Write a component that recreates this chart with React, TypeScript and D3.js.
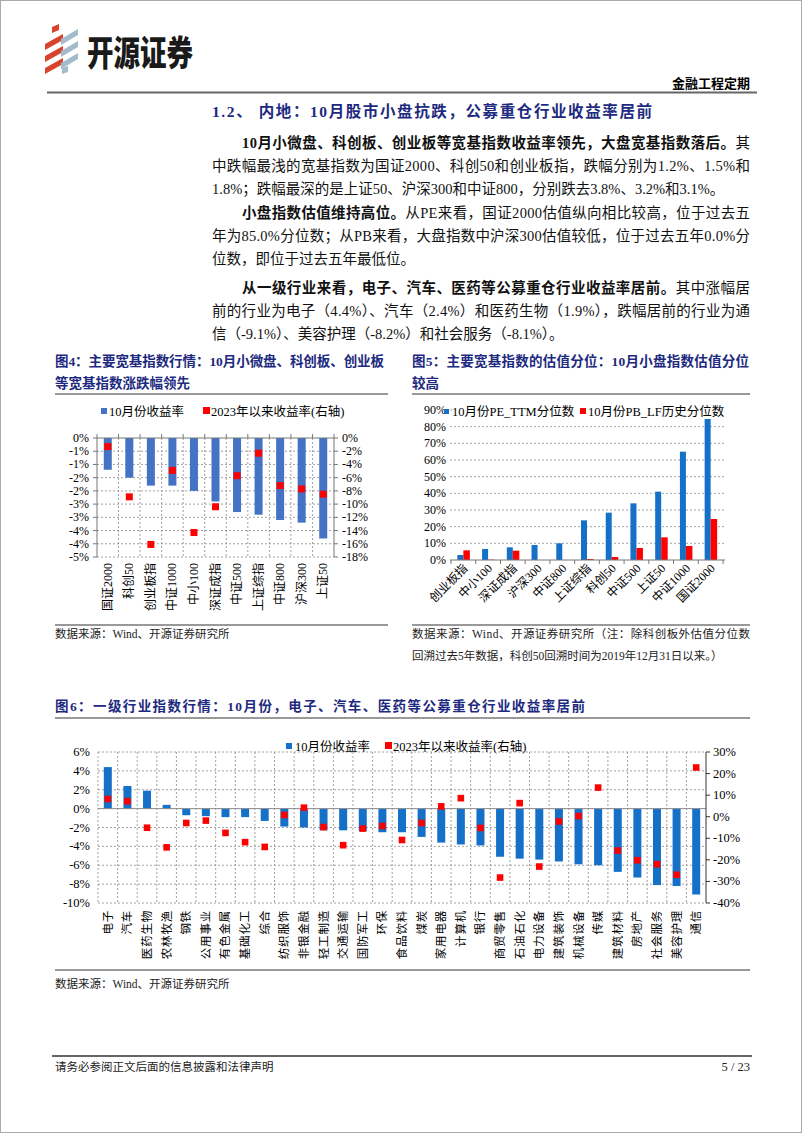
import React from "react";
import * as d3 from "d3";

const SERIF = "'Liberation Serif','Noto Sans CJK SC',serif";
const CJK = "'Noto Sans CJK SC',sans-serif";
const NAVY = "#1d2a80";
const BLUE4 = "#4472C4";
const BLUE = "#1570c8";
const RED = "#ff0000";
const GRID = "#8a8a8a";

// ---------- Figure 4 ----------
const c4Categories = ["国证2000", "科创50", "创业板指", "中证1000", "中小100", "深证成指", "中证500", "上证综指", "中证800", "沪深300", "上证50"];
const c4October = [-1.2, -1.5, -1.8, -1.8, -2.0, -2.4, -2.8, -2.9, -3.1, -3.2, -3.8];
const c4SinceYear = [-1.3, -8.9, -16.1, -4.9, -14.3, -10.4, -5.7, -2.3, -7.2, -7.7, -8.5];
const c4LeftTicks = [0, -0.5, -1, -1.5, -2, -2.5, -3, -3.5, -4, -4.5];
const c4LeftTickLabels = ["0%", "-1%", "-1%", "-2%", "-2%", "-3%", "-3%", "-4%", "-4%", "-5%"];
const c4RightTicks = [0, -2, -4, -6, -8, -10, -12, -14, -16, -18];

// ---------- Figure 5 ----------
const c5Categories = ["创业板指", "中小100", "深证成指", "沪深300", "中证800", "上证综指", "科创50", "中证500", "上证50", "中证1000", "国证2000"];
const c5PE = [3.0, 6.6, 7.6, 9.0, 10.0, 23.8, 28.4, 34.0, 41.0, 65.0, 85.0];
const c5PB = [5.8, 0.2, 5.6, 0.0, 0.0, 0.6, 1.8, 7.2, 13.6, 8.4, 24.6];
const c5Ticks = [0, 10, 20, 30, 40, 50, 60, 70, 80, 90];

// ---------- Figure 6 ----------
const c6Categories = ["电子", "汽车", "医药生物", "农林牧渔", "钢铁", "公用事业", "有色金属", "基础化工", "综合", "纺织服饰", "非银金融", "轻工制造", "交通运输", "国防军工", "环保", "食品饮料", "煤炭", "家用电器", "计算机", "银行", "商贸零售", "石油石化", "电力设备", "建筑装饰", "机械设备", "传媒", "建筑材料", "房地产", "社会服务", "美容护理", "通信"];
const c6October = [4.4, 2.4, 1.9, 0.4, -0.7, -0.8, -0.9, -0.9, -1.3, -1.9, -2.0, -2.3, -2.3, -2.4, -2.5, -2.5, -3.0, -3.6, -3.8, -3.9, -5.1, -5.3, -5.4, -5.6, -5.9, -6.0, -6.7, -7.3, -8.1, -8.2, -9.1];
const c6SinceYear = [8.2, 7.2, -5.1, -14.2, -2.9, -1.8, -7.5, -11.8, -14.0, 0.8, 4.2, -4.8, -13.2, -5.5, -4.3, -10.8, -2.9, 4.8, 8.6, -5.2, -28.2, 6.3, -23.1, -2.2, 0.3, 13.5, -15.7, -20.2, -22.0, -26.9, 22.8];
const c6LeftTicks = [6, 4, 2, 0, -2, -4, -6, -8, -10];
const c6RightTicks = [30, 20, 10, 0, -10, -20, -30, -40];

const pct = (v: number) => `${v}%`;

function Logo() {
  const red = "#d8432e";
  const blue = "#a3bccb";
  const stripe = (x0: number, x1: number, y: number) =>
    `M${x0},${y + 10} L${x1},${y} L${x1},${y + 6} L${x0},${y + 16} Z`;
  return (
    <g>
      <path d="M52,27 L59,24 L59,30 L52,33 Z" fill={red} />
      {[34, 46, 58].map((y, i) => (
        <path key={"r" + i} d={stripe(45, 63, y)} fill={red} />
      ))}
      {[29, 41, 53].map((y, i) => (
        <path key={"b" + i} d={stripe(61, 78, y)} fill={blue} />
      ))}
      <path d="M62,68 L68,66 L68,72 L62,74 Z" fill={blue} />
    </g>
  );
}

function Chart4() {
  const x = d3.scaleBand<string>().domain(c4Categories).range([97, 334]);
  const yL = d3.scaleLinear().domain([0, -4.5]).range([438, 557]);
  const yR = d3.scaleLinear().domain([0, -18]).range([438, 557]);
  const bw = x.bandwidth();
  return (
    <g fontFamily={SERIF}>
      <rect x={101} y={408} width={6} height={6} fill={BLUE4} />
      <text x={109} y={416} fontSize={12.5}>10月份收益率</text>
      <rect x={203} y={407} width={7} height={7} fill={RED} />
      <text x={211} y={416} fontSize={12.5}>2023年以来收益率(右轴)</text>
      {c4LeftTicks.slice(1).map((t) => (
        <line key={"h" + t} x1={97} x2={334} y1={yL(t)} y2={yL(t)} stroke={GRID} strokeWidth={0.8} strokeDasharray="2,2" />
      ))}
      {c4Categories.slice(1).map((c) => (
        <line key={"v" + c} x1={x(c)!} x2={x(c)!} y1={438} y2={557} stroke={GRID} strokeWidth={0.8} strokeDasharray="2,2" />
      ))}
      {c4Categories.map((c, i) => (
        <rect key={"b" + c} x={x(c)! + bw / 2 - 4} y={yL(0)} width={8} height={yL(c4October[i]) - yL(0)} fill={BLUE4} />
      ))}
      {c4Categories.map((c, i) => (
        <rect key={"m" + c} x={x(c)! + bw / 2 - 3.5} y={yR(c4SinceYear[i]) - 3.5} width={7} height={7} fill={RED} />
      ))}
      <line x1={97} x2={334} y1={438} y2={438} stroke="#777" strokeWidth={1} />
      {c4Categories.concat([""]).map((c, i) => {
        const xx = 97 + i * bw;
        return <line key={"t" + i} x1={xx} x2={xx} y1={434} y2={438} stroke="#777" />;
      })}
      <line x1={97} x2={97} y1={438} y2={557} stroke="#777" />
      <line x1={334} x2={334} y1={438} y2={557} stroke="#777" />
      {c4LeftTicks.map((t, i) => (
        <g key={"l" + i}>
          <line x1={93} x2={97} y1={yL(t)} y2={yL(t)} stroke="#777" />
          <text x={89} y={yL(t) + 4} fontSize={12} textAnchor="end">{c4LeftTickLabels[i]}</text>
        </g>
      ))}
      {c4RightTicks.map((t) => (
        <g key={"r" + t}>
          <line x1={334} x2={338} y1={yR(t)} y2={yR(t)} stroke="#777" />
          <text x={342} y={yR(t) + 4} fontSize={12}>{pct(t)}</text>
        </g>
      ))}
      {c4Categories.map((c) => (
        <text key={"x" + c} transform={`translate(${x(c)! + bw / 2 + 4},563) rotate(-90)`} textAnchor="end" fontSize={12}>{c}</text>
      ))}
    </g>
  );
}

function Chart5() {
  const x = d3.scaleBand<string>().domain(c5Categories).range([451, 723]);
  const y = d3.scaleLinear().domain([0, 90]).range([560, 410]);
  const bw = x.bandwidth();
  return (
    <g fontFamily={SERIF}>
      {c5Ticks.slice(1).map((t) => (
        <line key={"g" + t} x1={450} x2={725} y1={y(t)} y2={y(t)} stroke={GRID} strokeWidth={0.8} strokeDasharray="2,2" />
      ))}
      {c5Ticks.map((t) => (
        <text key={"l" + t} x={446} y={y(t) + 4} fontSize={12} textAnchor="end">{pct(t)}</text>
      ))}
      {c5Categories.map((c, i) => {
        const cx = x(c)! + bw / 2;
        return (
          <g key={c}>
            <rect x={cx - 6} y={y(c5PE[i])} width={6} height={y(0) - y(c5PE[i])} fill={BLUE} />
            <rect x={cx} y={y(c5PB[i])} width={6.5} height={y(0) - y(c5PB[i])} fill={RED} />
          </g>
        );
      })}
      <line x1={450} x2={725} y1={y(0)} y2={y(0)} stroke="#777" />
      {c5Categories.concat([""]).map((c, i) => {
        const xx = 451 + i * bw;
        return <line key={"t" + i} x1={xx} x2={xx} y1={560} y2={564} stroke="#777" />;
      })}
      {c5Categories.map((c) => (
        <text key={"x" + c} transform={`translate(${x(c)! + bw / 2 + 5},569) rotate(-45)`} textAnchor="end" fontSize={12}>{c}</text>
      ))}
      <rect x={452} y={404} width={272} height={15} fill="#fff" />
      <rect x={444} y={409} width={5} height={5} fill={BLUE} />
      <text x={452} y={416} fontSize={12.5}>10月份PE_TTM分位数</text>
      <rect x={580} y={408} width={6} height={6} fill={RED} />
      <text x={588} y={416} fontSize={12.5}>10月份PB_LF历史分位数</text>
    </g>
  );
}

function Chart6() {
  const x = d3.scaleBand<string>().domain(c6Categories).range([98, 706]);
  const yL = d3.scaleLinear().domain([-10, 6]).range([903, 752]);
  const yR = d3.scaleLinear().domain([-40, 30]).range([903, 752]);
  const bw = x.bandwidth();
  return (
    <g fontFamily={SERIF}>
      {c6LeftTicks.filter((t) => t !== 0).map((t) => (
        <line key={"h" + t} x1={98} x2={706} y1={yL(t)} y2={yL(t)} stroke={GRID} strokeWidth={0.8} strokeDasharray="2,2" />
      ))}
      {c6Categories.map((c) => (
        <line key={"v" + c} x1={x(c)!} x2={x(c)!} y1={752} y2={903} stroke={GRID} strokeWidth={0.8} strokeDasharray="2,2" />
      ))}
      {c6Categories.map((c, i) => {
        const v = c6October[i];
        return (
          <rect key={"b" + c} x={x(c)! + bw / 2 - 4} y={Math.min(yL(v), yL(0))} width={8} height={Math.abs(yL(v) - yL(0))} fill={BLUE} />
        );
      })}
      <line x1={98} x2={706} y1={yL(0)} y2={yL(0)} stroke="#888" strokeWidth={1} />
      {c6Categories.map((c, i) => (
        <rect key={"m" + c} x={x(c)! + bw / 2 - 3.3} y={yR(c6SinceYear[i]) - 3.3} width={6.6} height={6.6} fill={RED} />
      ))}
      <line x1={706} x2={706} y1={752} y2={903} stroke="#333" />
      {c6RightTicks.map((t) => (
        <g key={"r" + t}>
          <line x1={706} x2={710} y1={yR(t)} y2={yR(t)} stroke="#333" />
          <text x={713} y={yR(t) + 4} fontSize={12.5}>{pct(t)}</text>
        </g>
      ))}
      {c6LeftTicks.map((t) => (
        <text key={"l" + t} x={90} y={yL(t) + 4} fontSize={12.5} textAnchor="end">{pct(t)}</text>
      ))}
      {c6Categories.map((c) => (
        <text key={"x" + c} transform={`translate(${x(c)! + bw / 2 + 4},910) rotate(-90)`} textAnchor="end" fontSize={11.5} letterSpacing={0.8}>{c}</text>
      ))}
      <rect x={286} y={743} width={6} height={6} fill={BLUE} />
      <text x={295} y={751} fontSize={12.5}>10月份收益率</text>
      <rect x={385} y={742} width={7} height={7} fill={RED} />
      <text x={393} y={751} fontSize={12.5}>2023年以来收益率(右轴)</text>
    </g>
  );
}

type Part = { t: string; b?: boolean };
type Line = { x: number; y: number; len?: number; parts: Part[] };

const bodyLines: Line[] = [
  { x: 242, y: 148, len: 508, parts: [{ t: "10月小微盘、科创板、创业板等宽基指数收益率领先，大盘宽基指数落后。", b: true }, { t: "其" }] },
  { x: 212, y: 171, len: 538, parts: [{ t: "中跌幅最浅的宽基指数为国证2000、科创50和创业板指，跌幅分别为1.2%、1.5%和" }] },
  { x: 212, y: 194, parts: [{ t: "1.8%；跌幅最深的是上证50、沪深300和中证800，分别跌去3.8%、3.2%和3.1%。" }] },
  { x: 242, y: 218, len: 508, parts: [{ t: "小盘指数估值维持高位。", b: true }, { t: "从PE来看，国证2000估值纵向相比较高，位于过去五" }] },
  { x: 212, y: 241, len: 538, parts: [{ t: "年为85.0%分位数；从PB来看，大盘指数中沪深300估值较低，位于过去五年0.0%分" }] },
  { x: 212, y: 264, parts: [{ t: "位数，即位于过去五年最低位。" }] },
  { x: 242, y: 293, len: 508, parts: [{ t: "从一级行业来看，电子、汽车、医药等公募重仓行业收益率居前。", b: true }, { t: "其中涨幅居" }] },
  { x: 212, y: 316, len: 538, parts: [{ t: "前的行业为电子（4.4%）、汽车（2.4%）和医药生物（1.9%），跌幅居前的行业为通" }] },
  { x: 212, y: 339, parts: [{ t: "信（-9.1%）、美容护理（-8.2%）和社会服务（-8.1%）。" }] },
];

export default function App() {
  return (
    <div style={{ position: "absolute", left: 0, top: 0 }}>
      <svg width={802} height={1133} viewBox="0 0 802 1133" style={{ display: "block", background: "#fff" }}>
        <rect x={0.5} y={0.5} width={801} height={1132} fill="#fff" stroke="#aaa" />
        <Logo />
        <text x={87} y={66} fontFamily={CJK} fontWeight={900} fontSize={35} textLength={106} lengthAdjust="spacingAndGlyphs" fill="#1a1a1a">开源证券</text>
        <text x={750} y={88} fontFamily={SERIF} fontWeight={700} fontSize={13} textAnchor="end">金融工程定期</text>
        <line x1={47} x2={757} y1={92.5} y2={92.5} stroke="#666" strokeWidth={2} />

        <text x={212} y={117} fontFamily={SERIF} fontWeight={700} fontSize={15.5} fill={NAVY} textLength={440} lengthAdjust="spacing">1.2、 内地：10月股市小盘抗跌，公募重仓行业收益率居前</text>

        {bodyLines.map((l, i) => (
          <text key={i} x={l.x} y={l.y} fontFamily={SERIF} fontSize={14.5} fill="#111" textLength={l.len} lengthAdjust={l.len ? "spacing" : undefined}>
            {l.parts.map((p, j) => (
              <tspan key={j} fontWeight={p.b ? 700 : 400}>{p.t}</tspan>
            ))}
          </text>
        ))}

        <g fontFamily={SERIF} fontWeight={700} fill={NAVY} fontSize={13.5}>
          <text x={55} y={366} textLength={329} lengthAdjust="spacing">图4：主要宽基指数行情：10月小微盘、科创板、创业板</text>
          <text x={55} y={388}>等宽基指数涨跌幅领先</text>
          <text x={412} y={366} textLength={337} lengthAdjust="spacing">图5：主要宽基指数的估值分位：10月小盘指数估值分位</text>
          <text x={412} y={388}>较高</text>
          <text x={55} y={711} textLength={530} lengthAdjust="spacing">图6：一级行业指数行情：10月份，电子、汽车、医药等公募重仓行业收益率居前</text>
        </g>
        <line x1={55} x2={388} y1={394} y2={394} stroke="#777" strokeWidth={1.5} />
        <line x1={412} x2={750} y1={394} y2={394} stroke="#777" strokeWidth={1.5} />
        <line x1={55} x2={750} y1={718} y2={718} stroke="#777" strokeWidth={1.5} />

        <Chart4 />
        <Chart5 />
        <Chart6 />

        <line x1={55} x2={388} y1={625} y2={625} stroke="#777" strokeWidth={1.5} />
        <line x1={412} x2={750} y1={625} y2={625} stroke="#777" strokeWidth={1.5} />
        <g fontFamily={SERIF} fontSize={11.5} fill="#222">
          <text x={55} y={638}>数据来源：Wind、开源证券研究所</text>
          <text x={412} y={638} textLength={338} lengthAdjust="spacing">数据来源：Wind、开源证券研究所（注：除科创板外估值分位数</text>
          <text x={412} y={660}>回溯过去5年数据，科创50回溯时间为2019年12月31日以来。）</text>
        </g>
        <line x1={55} x2={750} y1={970} y2={970} stroke="#777" strokeWidth={1.5} />
        <text x={55} y={988} fontFamily={SERIF} fontSize={11.5} fill="#222">数据来源：Wind、开源证券研究所</text>

        <line x1={52} x2={752} y1={1056} y2={1056} stroke="#333" strokeWidth={1.5} />
        <text x={55} y={1071} fontFamily={SERIF} fontSize={11.5} fill="#222">请务必参阅正文后面的信息披露和法律声明</text>
        <text x={750} y={1071} fontFamily={SERIF} fontSize={12.5} textAnchor="end" fill="#222">5 / 23</text>
      </svg>
    </div>
  );
}
